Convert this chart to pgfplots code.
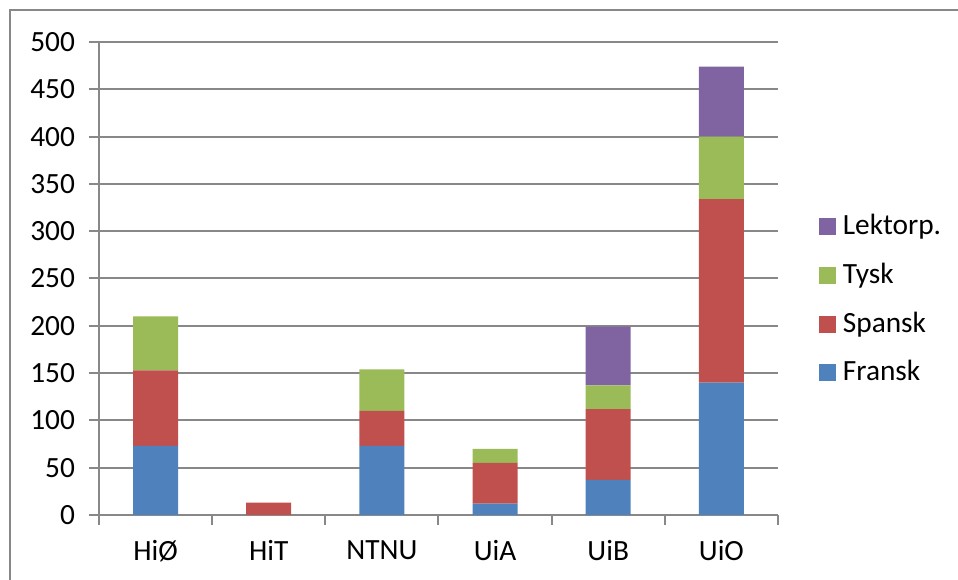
\documentclass[border=0pt]{standalone}
\usepackage{fontspec}
\setmainfont{Carlito}
\usepackage{pgfplots}
\pgfplotsset{compat=1.18}
\definecolor{cF}{HTML}{4F81BD}
\definecolor{cS}{HTML}{C0504D}
\definecolor{cT}{HTML}{9BBB59}
\definecolor{cL}{HTML}{8064A2}
\definecolor{gridc}{HTML}{888888}
\begin{document}
\fontsize{22}{26}\selectfont
\begin{tikzpicture}
\useasboundingbox (0,0) rectangle (718.5pt,435pt);
\draw[color=gridc, line width=1.5pt] (7.5pt,-2pt) -- (7.5pt,427.5pt) -- (720pt,427.5pt);
\begin{axis}[
  at={(74.25pt,48.75pt)}, anchor=south west,
  width=509.25pt, height=354.75pt, scale only axis,
  ybar stacked, bar width=33.75pt,
  ymin=0, ymax=500, xmin=-0.5, xmax=5.5,
  axis x line*=bottom, axis y line*=left,
  ytick={0,50,...,500},
  ymajorgrids,
  grid style={gridc, line width=1.5pt},
  axis line style={gridc, line width=1.5pt},
  tick style={gridc, line width=1.5pt},
  major tick length=7.5pt, tick align=outside,
  xtick={-0.5,0.5,...,5.5},
  x tick label as interval,
  xticklabels={HiØ,HiT,NTNU,UiA,UiB,UiO},
  /pgf/number format/assume math mode=true,
  ticklabel style={font=\fontsize{22}{26}\selectfont, text=black},
  xticklabel style={yshift=-4pt},
  yticklabel style={xshift=-3pt},
  reverse legend,
  legend style={draw=none, fill=none, at={(1.054,0.455)}, anchor=west,
    font=\fontsize{22}{26}\selectfont, row sep=14pt,
    legend cell align=left},
  legend image code/.code={\fill[#1] (0pt,-6.4pt) rectangle (12.75pt,6.4pt); \path (16pt,0pt);},
]
\addplot[fill=cF, draw=none] coordinates {(0,73) (1,0) (2,73) (3,12) (4,37) (5,140)};
\addplot[fill=cS, draw=none] coordinates {(0,80) (1,13) (2,37) (3,43) (4,75) (5,194)};
\addplot[fill=cT, draw=none] coordinates {(0,57) (1,0) (2,44) (3,15) (4,25) (5,66)};
\addplot[fill=cL, draw=none] coordinates {(0,0) (1,0) (2,0) (3,0) (4,62) (5,74)};
\legend{Fransk,Spansk,Tysk,Lektorp.}
\end{axis}
\end{tikzpicture}
\end{document}
